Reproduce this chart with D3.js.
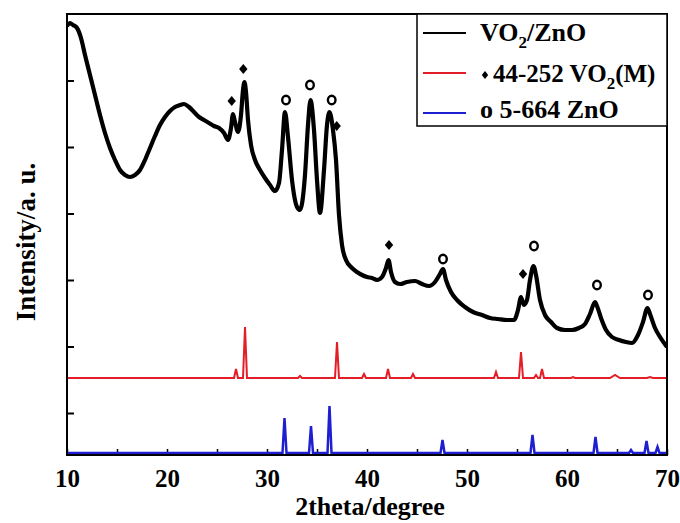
<!DOCTYPE html>
<html>
<head>
<meta charset="utf-8">
<script src="https://cdn.jsdelivr.net/npm/d3@7"></script>
<style>
  body { margin: 0; background: #fff; }
  text { font-family: "Liberation Serif", "Times New Roman", serif; font-weight: bold; }
</style>
</head>
<body>
<div id="xrd_plot"></div>
<script>
// 2theta (degree) and intensity (a.u.) of the VO2/ZnO film
var sample2theta = [10.0, 10.3, 10.6, 11.0, 11.4, 11.8, 12.3, 12.8, 13.3, 13.8, 14.3, 14.8, 15.3, 15.8, 16.3, 16.8,
  17.3, 17.8, 18.3, 18.8, 19.3, 19.8, 20.3, 20.8, 21.3, 21.7, 22.2, 22.7, 23.2, 23.7, 24.2, 24.7, 25.2, 25.7,
  26.1, 26.4, 26.6, 26.8, 27.1, 27.4, 27.6, 27.75, 27.9, 28.1, 28.4, 28.8, 29.3, 29.8, 30.3, 30.8, 31.2, 31.5,
  31.8, 32.1, 32.5, 33.0, 33.3, 33.8, 34.1, 34.35, 34.7, 35.0, 35.3, 35.7, 36.0, 36.25, 36.6, 36.9, 37.2, 37.5,
  37.9, 38.5, 39.0, 39.5, 40.0, 40.5, 41.0, 41.5, 41.9, 42.15, 42.4, 42.8, 43.3, 44.0, 44.8, 45.5, 46.2, 46.8,
  47.3, 47.6, 47.9, 48.4, 49.0, 49.8, 50.6, 51.5, 52.3, 53.1, 54.0, 54.7, 55.1, 55.4, 55.7, 56.0, 56.3, 56.65,
  56.9, 57.3, 57.8, 58.4, 59.0, 59.8, 60.5, 61.2, 61.8, 62.3, 62.8, 63.0, 63.4, 63.9, 64.5, 65.2, 65.9, 66.5,
  67.1, 67.6, 68.05, 68.3, 68.8, 69.3, 70.0];
var sampleIntensity = [429, 432, 430, 427, 417, 400, 380, 360, 340, 322, 307, 295, 285, 280, 278, 280,
  285, 295, 307, 319, 330, 338, 344, 348, 350, 351, 348, 343, 338, 335, 332, 329, 327, 322,
  315, 327, 341, 333, 323, 340, 365, 373, 363, 335, 310, 295, 285, 277, 270, 264, 272, 305,
  343, 318, 275, 248, 245, 280, 330, 355, 325, 275, 242, 285, 330, 343, 325, 295, 240, 210,
  195, 187, 183, 180, 178, 177, 175, 178, 187, 195, 183, 173, 171, 173, 174, 171, 169, 173,
  181, 186, 175, 163, 155, 148, 143, 140, 137, 136, 135, 135, 145, 158, 150, 155, 175, 189,
  180, 155, 140, 133, 127, 125, 125, 127, 131, 141, 153, 149, 137, 125, 118, 115, 113, 112,
  120, 133, 147, 141, 127, 118, 108];

// reference patterns: [2theta, peak height, half width]
var vo2Base = 77;
var vo2Peaks = [[26.9, 86, 0.2], [27.8, 128, 0.2], [33.3, 79, 0.2], [37.0, 113, 0.2], [39.7, 81, 0.2],
  [42.1, 86, 0.2], [44.6, 81, 0.2], [52.9, 83, 0.2], [55.4, 103, 0.2], [56.9, 80, 0.2], [57.5, 86, 0.2],
  [60.6, 78, 0.2], [64.8, 80, 0.5], [68.3, 78, 0.3]];
var znoBase = 2;
var znoPeaks = [[31.75, 37, 0.2], [34.4, 29, 0.2], [36.25, 49, 0.2], [47.55, 15, 0.2], [56.55, 20, 0.2],
  [62.85, 18, 0.2], [66.4, 5, 0.2], [67.95, 14, 0.2], [69.05, 8, 0.2]];

// phase markers above the measured pattern
var diamondMarks = [[26.47, 354], [27.63, 386], [36.97, 329], [42.2, 210], [55.6, 181]];
var circleMarks = [[31.9, 355], [34.3, 370], [36.47, 355], [47.6, 196], [56.7, 209], [63.0, 170], [68.1, 160]];

var xTicks = [10, 15, 20, 25, 30, 35, 40, 45, 50, 55, 60, 65, 70];
var xTickLabels = [10, 20, 30, 40, 50, 60, 70];
var yTicks = [42, 108.5, 175, 241.5, 308, 374.5];

var XrdPlot = function(target){
	this.target = target;
	this.width = 680;
	this.height = 523;
	this.margin = {top: 14, right: 13, bottom: 68, left: 67};
	this.setupSVG();
	this.drawAxes();
	this.drawPatterns();
	this.drawMarks();
	this.drawLegend();
};

XrdPlot.prototype.setupSVG = function(){
	var w = this.width - this.margin.left - this.margin.right;
	var h = this.height - this.margin.top - this.margin.bottom;
	this.w = w; this.h = h;
	this.x = d3.scaleLinear().domain([10, 70]).range([0, w]);
	this.y = d3.scaleLinear().domain([0, 441]).range([h, 0]);

	this.svg_out = d3.select("#" + this.target).append("svg")
		.attr("width", this.width)
		.attr("height", this.height);
	this.svg_out.append("defs").append("clipPath").attr("id", "clip")
		.append("rect").attr("width", w).attr("height", h);
	this.svg = this.svg_out.append("g")
		.attr("transform", "translate(" + this.margin.left + "," + this.margin.top + ")");
};

XrdPlot.prototype.drawAxes = function(){
	var self = this;
	var xAxis = d3.axisBottom(this.x).tickValues(xTicks).tickSizeInner(-6).tickSizeOuter(0).tickPadding(14)
		.tickFormat(function(d){ return xTickLabels.includes(d) ? d : ""; });
	var gx = this.svg.append("g").attr("class", "x axis")
		.attr("transform", "translate(0," + this.h + ")")
		.call(xAxis);
	gx.select(".domain").remove();
	gx.selectAll("line").attr("stroke", "#000").attr("stroke-width", 1.5);
	gx.selectAll("text").style("font-size", "25px").attr("fill", "#000");

	var yAxis = d3.axisLeft(this.y).tickValues(yTicks).tickSizeInner(-7).tickSizeOuter(0).tickFormat("");
	var gy = this.svg.append("g").attr("class", "y axis").call(yAxis);
	gy.select(".domain").remove();
	gy.selectAll("line").attr("stroke", "#000").attr("stroke-width", 2);

	this.svg.append("text")
		.attr("x", this.w / 2 + 3).attr("y", this.h + 60)
		.attr("text-anchor", "middle")
		.style("font-size", "26px")
		.text("2theta/degree");

	this.svg_out.append("text")
		.attr("transform", "translate(35,242) rotate(-90)")
		.attr("text-anchor", "middle")
		.style("font-size", "27px")
		.text("Intensity/a. u.");
};

XrdPlot.prototype.stickPoints = function(base, peaks){
	var pts = [[10, base]];
	for(let p of peaks){
		pts.push([p[0] - p[2], base], [p[0], p[1]], [p[0] + p[2], base]);
	}
	pts.push([70, base]);
	return pts;
};

XrdPlot.prototype.drawPatterns = function(){
	var self = this;
	var line = d3.line()
		.x(function(d){ return self.x(d[0]); })
		.y(function(d){ return self.y(d[1]); });
	var plotArea = this.svg.append("g").attr("clip-path", "url(#clip)");

	plotArea.append("path")
		.datum(this.stickPoints(vo2Base, vo2Peaks))
		.attr("d", line)
		.attr("fill", "none").attr("stroke", "#e41e26").attr("stroke-width", 2);

	plotArea.append("path")
		.datum(this.stickPoints(znoBase, znoPeaks))
		.attr("d", line)
		.attr("fill", "none").attr("stroke", "#1f1fd2").attr("stroke-width", 2.5);

	var sample = sample2theta.map(function(t, i){ return [t, sampleIntensity[i]]; });
	plotArea.append("path")
		.datum(sample)
		.attr("d", line.curve(d3.curveMonotoneX))
		.attr("fill", "none").attr("stroke", "#000").attr("stroke-width", 4.2)
		.attr("stroke-linejoin", "round");

	// frame
	this.svg.append("rect")
		.attr("width", this.w).attr("height", this.h)
		.attr("fill", "none").attr("stroke", "#000").attr("stroke-width", 2);
};

XrdPlot.prototype.drawMarks = function(){
	var self = this;
	var diamond = "M0,-5L4.2,0L0,5L-4.2,0Z";
	this.svg.selectAll("path.diamond").data(diamondMarks).enter()
		.append("path").attr("class", "diamond")
		.attr("d", diamond)
		.attr("transform", function(d){ return "translate(" + self.x(d[0]) + "," + self.y(d[1]) + ")"; })
		.attr("fill", "#000");

	this.svg.selectAll("ellipse.ring").data(circleMarks).enter()
		.append("ellipse").attr("class", "ring")
		.attr("cx", function(d){ return self.x(d[0]); })
		.attr("cy", function(d){ return self.y(d[1]); })
		.attr("rx", 3.8).attr("ry", 4.3)
		.attr("fill", "none").attr("stroke", "#000").attr("stroke-width", 2.4);
};

XrdPlot.prototype.drawLegend = function(){
	var lg = this.svg_out.append("g");
	lg.append("rect")
		.attr("x", 417).attr("y", 14).attr("width", 250).attr("height", 112)
		.attr("fill", "#fff").attr("stroke", "#000").attr("stroke-width", 1.5);

	var rows = [
		{color: "#000", ly: 33, ty: 41},
		{color: "#e41e26", ly: 73, ty: 82},
		{color: "#1f1fd2", ly: 113, ty: 118}
	];
	rows.forEach(function(r){
		lg.append("line").attr("x1", 423).attr("x2", 466).attr("y1", r.ly).attr("y2", r.ly)
			.attr("stroke", r.color).attr("stroke-width", 2);
	});

	var t1 = lg.append("text").attr("x", 480).attr("y", rows[0].ty).style("font-size", "26px");
	t1.append("tspan").text("VO");
	t1.append("tspan").attr("dy", 7).style("font-size", "17px").text("2");
	t1.append("tspan").attr("dy", -7).text("/ZnO");

	lg.append("path").attr("d", "M0,-4L3.2,0L0,4L-3.2,0Z")
		.attr("transform", "translate(485,75)").attr("fill", "#000");
	var t2 = lg.append("text").attr("x", 493).attr("y", rows[1].ty).style("font-size", "25px");
	t2.append("tspan").text("44-252 VO");
	t2.append("tspan").attr("dy", 7).style("font-size", "17px").text("2");
	t2.append("tspan").attr("dy", -7).text("(M)");

	lg.append("text").attr("x", 480).attr("y", rows[2].ty).style("font-size", "26px")
		.text("o 5-664 ZnO");
};

new XrdPlot("xrd_plot");
</script>
</body>
</html>
